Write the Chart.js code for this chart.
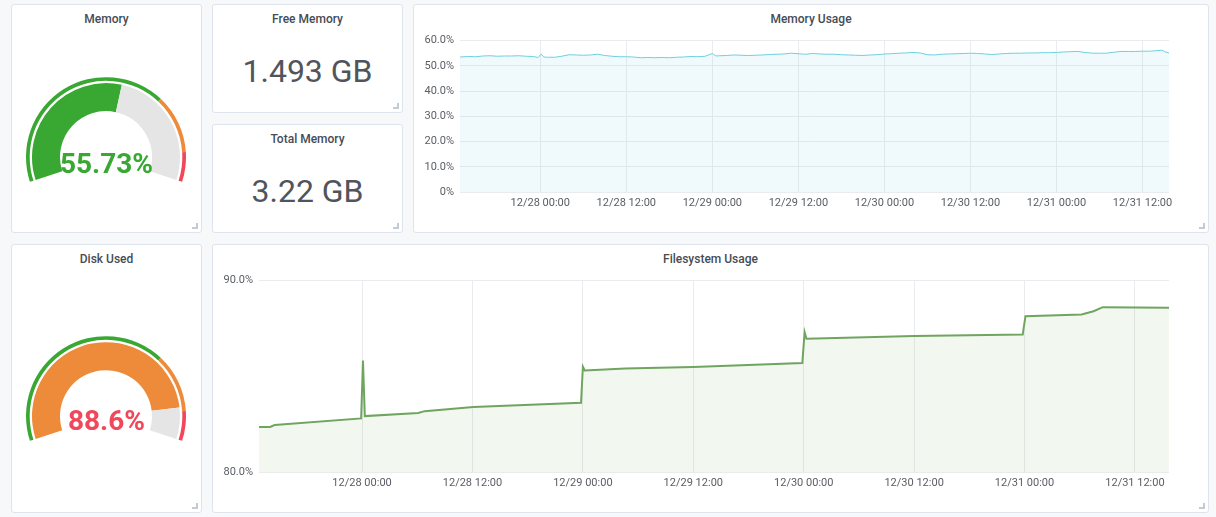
<!DOCTYPE html>
<html lang="en">
<head>
<meta charset="UTF-8">
<title>Memory / Disk</title>
<script src="https://cdn.jsdelivr.net/npm/chart.js"></script>
<style>
    body {
        margin: 0;
        width: 1216px;
        height: 517px;
        overflow: hidden;
        position: relative;
        background: #f7f8fa;
        font-family: Roboto, "Noto Sans", Arial, sans-serif;
    }
    .panel {
        position: absolute;
        background: #fff;
        border: 1px solid #dde4ed;
        border-radius: 3px;
        box-sizing: border-box;
    }
    .corner {
        position: absolute;
        right: 3px;
        bottom: 3px;
        width: 4px;
        height: 4px;
        border-right: 2px solid #c4cad2;
        border-bottom: 2px solid #c4cad2;
    }
    .title {
        position: absolute;
        text-align: center;
        font-size: 12px;
        line-height: 16px;
        font-weight: 500;
        color: #464c54;
        white-space: nowrap;
    }
    .stat {
        position: absolute;
        text-align: center;
        font-size: 32px;
        line-height: 38px;
        color: #52545c;
        white-space: nowrap;
    }
    .gaugeText {
        position: absolute;
        text-align: center;
        font-size: 28px;
        line-height: 32px;
        font-weight: bold;
        white-space: nowrap;
    }
    .box {
        position: absolute;
    }
</style>
</head>
<body>

    <!-- panels -->
    <div class="panel" style="left:11px;top:4px;width:191px;height:229px;"><div class="corner"></div></div>
    <div class="panel" style="left:212px;top:4px;width:191px;height:109px;"><div class="corner"></div></div>
    <div class="panel" style="left:212px;top:124px;width:191px;height:109px;"><div class="corner"></div></div>
    <div class="panel" style="left:413px;top:4px;width:796px;height:229px;"><div class="corner"></div></div>
    <div class="panel" style="left:11px;top:244px;width:191px;height:269px;"><div class="corner"></div></div>
    <div class="panel" style="left:212px;top:244px;width:997px;height:269px;"><div class="corner"></div></div>

    <!-- titles -->
    <div class="title" style="left:11px;top:10.6px;width:191px;">Memory</div>
    <div class="title" style="left:212px;top:10.6px;width:191px;">Free Memory</div>
    <div class="title" style="left:212px;top:130.6px;width:191px;">Total Memory</div>
    <div class="title" style="left:413px;top:10.6px;width:796px;">Memory Usage</div>
    <div class="title" style="left:11px;top:250.6px;width:191px;">Disk Used</div>
    <div class="title" style="left:212px;top:250.6px;width:997px;">Filesystem Usage</div>

    <!-- single stats -->
    <div class="stat" id="freeMem" style="left:212px;top:52.3px;width:191px;"></div>
    <div class="stat" id="totalMem" style="left:212px;top:171.7px;width:191px;"></div>

    <!-- gauges -->
    <div class="box" style="left:26.35px;top:77.3px;width:160px;height:105px;"><canvas id="memGauge"></canvas></div>
    <div class="box" style="left:26.35px;top:335.7px;width:160px;height:105px;"><canvas id="diskGauge"></canvas></div>
    <div class="gaugeText" id="memText" style="left:11px;top:147.7px;width:191px;color:#38a832;"></div>
    <div class="gaugeText" id="diskText" style="left:11px;top:405.1px;width:191px;color:#f0485a;"></div>

    <!-- graphs -->
    <div class="box" style="left:414px;top:28px;width:767px;height:188px;"><canvas id="memChart"></canvas></div>
    <div class="box" style="left:213px;top:268px;width:968px;height:228px;"><canvas id="fsChart"></canvas></div>

    <script>
        // single stat values
        const freeMemory = "1.493 GB";
        const totalMemory = "3.22 GB";

        // gauge values and threshold bands (green < 70, orange < 90, red)
        const memUsedPct = 55.73;
        const diskUsedPct = 88.6;
        const gaugeBands = [70, 20, 10];

        // time axis: hours relative to 12/28 00:00
        const tickHours = [0, 12, 24, 36, 48, 60, 72, 84];
        const tickLabels = ["12/28 00:00", "12/28 12:00", "12/29 00:00", "12/29 12:00",
                            "12/30 00:00", "12/30 12:00", "12/31 00:00", "12/31 12:00"];
        const xMin = -11.2;
        const xMax = 87.7;

        // memory usage (%)
        const memHours = [-11.2, -10, -9, -8, -7, -6, -5, -4, -3, -2, -1, -0.3, 0.1, 0.5,
                          1, 2, 3, 4, 5, 6, 7, 8, 9, 10, 11, 12, 13, 14, 15, 16, 17, 18, 19, 20,
                          21, 22, 23, 24, 24.5, 25, 26, 27, 28, 29, 30, 31, 32, 33, 34, 35, 36,
                          37, 38, 39, 40, 41, 42, 43, 44, 45, 46, 47, 48, 49, 50, 51, 52, 53,
                          54, 55, 56, 57, 58, 59, 60, 61, 62, 63, 64, 65, 66, 67, 68, 69, 70,
                          71, 72, 73, 74, 75, 76, 77, 78, 79, 80, 81, 82, 83, 84, 85, 86, 86.7,
                          87.2, 87.7];
        const memValues = [53.5, 53.7, 53.6, 53.9, 54.0, 53.8, 53.9, 53.9, 54.0, 53.8, 53.7, 53.3, 54.6, 53.5,
                           53.4, 53.4, 53.8, 54.4, 54.3, 54.2, 54.3, 54.6, 54.1, 53.8, 53.6, 53.6, 53.5, 53.2, 53.3, 53.2, 53.3, 53.2, 53.4, 53.5,
                           53.7, 53.6, 53.8, 54.9, 53.9, 54.0, 54.1, 54.3, 54.2, 54.1, 54.2, 54.3, 54.5, 54.6, 54.7, 55.0, 54.8,
                           54.6, 54.9, 54.7, 54.6, 54.6, 54.4, 54.3, 54.2, 54.1, 54.3, 54.4, 54.7, 54.8, 55.0, 55.1, 55.3, 55.1,
                           54.4, 54.3, 54.6, 54.7, 54.8, 54.9, 55.0, 54.9, 54.7, 54.5, 54.7, 54.9, 55.0, 55.0, 55.1, 55.1, 55.2,
                           55.2, 55.3, 55.5, 55.6, 55.7, 55.3, 55.0, 55.0, 55.0, 55.4, 55.7, 55.7, 55.7, 55.8, 55.8, 56.0, 56.2,
                           55.5, 55.1];
        const memTicks = ["0%", "10.0%", "20.0%", "30.0%", "40.0%", "50.0%", "60.0%"];

        // filesystem usage (%)
        const fsHours = [-11.2, -10.0, -9.5, -0.1, 0.1, 0.3, 6.1, 6.8, 12.1, 23.8, 24.0, 24.2,
                         28.6, 36.0, 47.85, 48.1, 48.3, 60.0, 71.8, 72.1, 78.2, 79.5, 80.5, 87.7];
        const fsValues = [82.35, 82.35, 82.45, 82.8, 85.83, 82.92, 83.08, 83.18, 83.39, 83.62, 85.5, 85.3,
                          85.41, 85.48, 85.69, 87.3, 86.96, 87.1, 87.18, 88.14, 88.23, 88.4, 88.61, 88.58];
        const fsTicks = ["80.0%", "90.0%"];

        const GREEN = "#38a832";
        const ORANGE = "#ed8b3b";
        const RED = "#f0485a";
        const GREY = "#e5e5e5";

        Chart.defaults.font.family = "Roboto, 'Noto Sans', Arial, sans-serif";
        Chart.defaults.font.size = 11;
        Chart.defaults.color = "#5a5d63";
        Chart.defaults.animation = false;

        document.getElementById("freeMem").innerText = freeMemory;
        document.getElementById("totalMem").innerText = totalMemory;
        document.getElementById("memText").innerText = memUsedPct + "%";
        document.getElementById("diskText").innerText = diskUsedPct + "%";

        function drawGauge(id, value, fillColor) {
            new Chart(document.getElementById(id), {
                type: "doughnut",
                data: {
                    datasets: [
                        { data: gaugeBands, backgroundColor: [GREEN, ORANGE, RED], borderWidth: 0, weight: 3.7 },
                        { data: [100], backgroundColor: ["rgba(0,0,0,0)"], borderWidth: 0, weight: 2.3 },
                        { data: [value, 100 - value], backgroundColor: [fillColor, GREY], borderWidth: 0, weight: 28 }
                    ]
                },
                options: {
                    responsive: true,
                    maintainAspectRatio: false,
                    rotation: -108,
                    circumference: 216,
                    cutout: "57.5%",
                    layout: { padding: 0 },
                    events: [],
                    plugins: { legend: { display: false }, tooltip: { enabled: false } }
                }
            });
        }

        drawGauge("memGauge", memUsedPct, GREEN);
        drawGauge("diskGauge", diskUsedPct, ORANGE);

        function drawGraph(id, hours, values, color, fillColor, lineWidth, yMin, yMax, yStep, yLabels) {
            const points = hours.map((h, i) => ({ x: h, y: values[i] }));
            new Chart(document.getElementById(id), {
                type: "line",
                data: {
                    datasets: [{
                        data: points,
                        borderColor: color,
                        backgroundColor: fillColor,
                        borderWidth: lineWidth,
                        fill: "start",
                        pointRadius: 0,
                        tension: 0
                    }]
                },
                options: {
                    responsive: true,
                    maintainAspectRatio: false,
                    layout: { padding: { top: 8, right: 12, bottom: 0, left: 0 } },
                    events: [],
                    scales: {
                        x: {
                            type: "linear",
                            min: xMin,
                            max: xMax,
                            border: { display: false },
                            grid: { color: "#e9ebee", drawTicks: false },
                            afterBuildTicks: axis => { axis.ticks = tickHours.map(v => ({ value: v })); },
                            afterFit: axis => { axis.height = 24; },
                            ticks: {
                                padding: 5,
                                autoSkip: false,
                                maxRotation: 0,
                                callback: v => tickLabels[tickHours.indexOf(v)]
                            }
                        },
                        y: {
                            min: yMin,
                            max: yMax,
                            border: { display: false },
                            grid: { color: "#e9ebee", drawTicks: false },
                            afterFit: axis => { axis.width = 46; },
                            ticks: {
                                stepSize: yStep,
                                padding: 6,
                                callback: (v, i) => yLabels[i]
                            }
                        }
                    },
                    plugins: { legend: { display: false }, tooltip: { enabled: false } }
                }
            });
        }

        drawGraph("memChart", memHours, memValues, "#6ed0e0", "rgba(110,208,224,0.1)", 1, 0, 60, 10, memTicks);
        drawGraph("fsChart", fsHours, fsValues, "#6fa55f", "rgba(126,178,109,0.1)", 2, 80, 90, 10, fsTicks);
    </script>

</body>
</html>
